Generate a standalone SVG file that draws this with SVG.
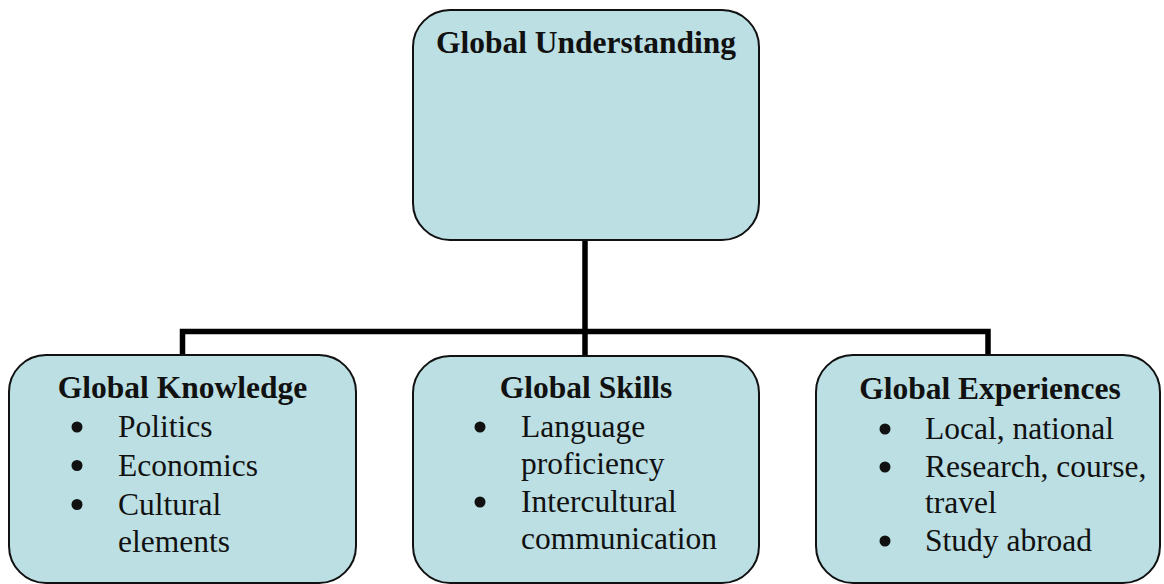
<svg xmlns="http://www.w3.org/2000/svg" width="1164" height="584" viewBox="0 0 1164 584">
  <style>
    .box { fill: #bbdfe3; stroke: #111; stroke-width: 2; }
    .title { font-family: "Liberation Serif", "Times New Roman", serif; font-weight: bold; font-size: 31.5px; fill: #111; text-anchor: middle; }
    .item { font-family: "Liberation Serif", "Times New Roman", serif; font-size: 31.5px; fill: #111; }
    .dot { fill: #111; }
    .wire { fill: none; stroke: #000; stroke-width: 5.5; stroke-linejoin: miter; stroke-linecap: butt; }
  </style>
  <rect width="1164" height="584" fill="#fff"/>

  <!-- org-chart connectors -->
  <g id="connectors">
    <path class="wire" d="M585 240 V331.5"/>
    <path class="wire" d="M182.5 356 V331.5 H988 V356"/>
    <path class="wire" d="M585 331.5 V356"/>
  </g>

  <!-- root node -->
  <g id="global-understanding">
    <rect class="box" x="413" y="10" width="346" height="230" rx="37" ry="37"/>
    <text class="title" x="586" y="53">Global Understanding</text>
  </g>

  <!-- child nodes -->
  <g id="global-knowledge">
    <rect class="box" x="9" y="355" width="347" height="228" rx="37" ry="37"/>
    <text class="title" x="182.5" y="398">Global Knowledge</text>
    <circle class="dot" cx="77" cy="427" r="5.5"/>
    <text class="item" x="118" y="437">Politics</text>
    <circle class="dot" cx="77" cy="465.5" r="5.5"/>
    <text class="item" x="118" y="476">Economics</text>
    <circle class="dot" cx="77" cy="504.5" r="5.5"/>
    <text class="item" x="118" y="515">Cultural</text>
    <text class="item" x="118" y="552">elements</text>
  </g>

  <g id="global-skills">
    <rect class="box" x="413" y="356" width="346" height="227" rx="37" ry="37"/>
    <text class="title" x="586" y="398">Global Skills</text>
    <circle class="dot" cx="480" cy="427" r="5.5"/>
    <text class="item" x="521" y="437">Language</text>
    <text class="item" x="521" y="474">proficiency</text>
    <circle class="dot" cx="480" cy="502" r="5.5"/>
    <text class="item" x="521" y="512">Intercultural</text>
    <text class="item" x="521" y="549">communication</text>
  </g>

  <g id="global-experiences">
    <rect class="box" x="816" y="355" width="344" height="228" rx="37" ry="37"/>
    <text class="title" x="990" y="399">Global Experiences</text>
    <circle class="dot" cx="885" cy="429" r="5.5"/>
    <text class="item" x="925" y="439">Local, national</text>
    <circle class="dot" cx="885" cy="467" r="5.5"/>
    <text class="item" x="925" y="477">Research, course,</text>
    <text class="item" x="925" y="513">travel</text>
    <circle class="dot" cx="885" cy="541" r="5.5"/>
    <text class="item" x="925" y="551">Study abroad</text>
  </g>
</svg>
